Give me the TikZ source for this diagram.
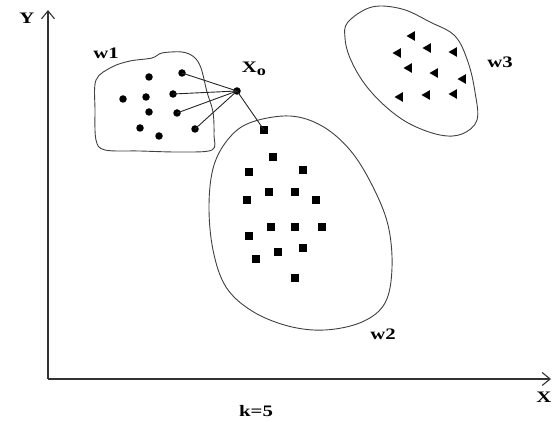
\documentclass[tikz,border=0pt]{standalone}
\usepackage{fontspec}
\setmainfont{Liberation Serif}
\usetikzlibrary{arrows.meta,shapes.geometric}
\newcommand{\widetext}[1]{\scalebox{1.3}[1]{#1}}
\begin{document}
\begin{tikzpicture}[x=1pt,y=-1pt,
  axis/.style={draw=black!80,line width=1.1pt,-{Straight Barb[length=8pt,width=13pt]}},
  blob/.style={draw=black!75,line width=0.9pt},
  link/.style={draw=black!85,line width=0.9pt},
  dot/.style={circle,fill=black,inner sep=0pt,minimum size=7.5pt},
  sq/.style={rectangle,fill=black,inner sep=0pt,minimum size=8pt},
  tri/.style={regular polygon,regular polygon sides=3,shape border rotate=90,fill=black,inner sep=0pt,minimum size=11pt},
  lab/.style={font=\bfseries\fontsize{16}{18}\selectfont,inner sep=0pt}]
\useasboundingbox (0,0) rectangle (552,422);

% axes
\coordinate (o) at (48,379);
\coordinate (ytip) at (48,10);
\coordinate (xtip) at (551,379);
\draw[axis] (o) -- (ytip);
\draw[axis] (o) -- (xtip);
\node[lab] (ylab) at (27,18) {\widetext{Y}};
\node[lab] (xlab) at (544,397) {\widetext{X}};
\node[lab] (klab) at (256,411) {\widetext{k=5}};

% class w1
\draw[blob] plot[smooth cycle,tension=0.55] coordinates {
  (96,80) (112,67) (130,61) (152,58) (162,53) (182,52) (194,57) (201,68)
  (207,92) (213,112) (214,135) (212,150) (180,152) (140,151) (105,150) (96,140) (95,110)};
\node[lab] (w1) at (106,53) {\widetext{w1}};
\node[dot] (a1) at (182,73) {};
\node[dot] (a2) at (149,77) {};
\node[dot] (a3) at (123,99) {};
\node[dot] (a4) at (146,97) {};
\node[dot] (a5) at (173,94) {};
\node[dot] (a6) at (149,112) {};
\node[dot] (a7) at (177,113) {};
\node[dot] (a8) at (140,128) {};
\node[dot] (a9) at (159,136) {};
\node[dot] (a10) at (195,129) {};

% class w2
\draw[blob] plot[smooth cycle,tension=0.6] coordinates {
  (252,122) (290,116) (322,126) (350,150) (372,185) (388,225) (392,268)
  (385,303) (362,322) (325,330) (288,326) (252,311) (226,287) (213,250)
  (209,205) (214,165) (230,137)};
\node[lab] (w2) at (383,334) {\widetext{w2}};
\node[sq] (b1) at (264,130) {};
\node[sq] (b2) at (273,157) {};
\node[sq] (b3) at (249,172) {};
\node[sq] (b4) at (303,170) {};
\node[sq] (b5) at (269,192) {};
\node[sq] (b6) at (295,192) {};
\node[sq] (b7) at (247,200) {};
\node[sq] (b8) at (316,200) {};
\node[sq] (b9) at (271,227) {};
\node[sq] (b10) at (295,227) {};
\node[sq] (b11) at (322,227) {};
\node[sq] (b12) at (249,236) {};
\node[sq] (b13) at (303,248) {};
\node[sq] (b14) at (278,252) {};
\node[sq] (b15) at (256,259) {};
\node[sq] (b16) at (295,278) {};

% class w3
\draw[blob] plot[smooth cycle,tension=0.6] coordinates {
  (348,22) (372,7) (402,9) (430,22) (455,36) (468,62) (475,92) (477,120)
  (462,134) (440,135) (410,124) (385,106) (364,83) (350,58) (345,38)};
\node[lab] (w3) at (500,62) {\widetext{w3}};
\node[tri] (c1) at (412,36) {};
\node[tri] (c2) at (428,48) {};
\node[tri] (c3) at (398,53) {};
\node[tri] (c4) at (454,52) {};
\node[tri] (c5) at (409,68) {};
\node[tri] (c6) at (435,73) {};
\node[tri] (c7) at (463,79) {};
\node[tri] (c8) at (400,97) {};
\node[tri] (c9) at (427,95) {};
\node[tri] (c10) at (454,94) {};

% query point and its five nearest neighbours
\node[dot] (x0) at (237,91) {};
\node[lab] (x0lab) at (254,69) {\widetext{X\raisebox{-3.5pt}{\fontsize{14}{16}\selectfont o}}};
\foreach \n in {a1,a5,a7,a10,b1}
  \draw[link] (x0.center) -- (\n.center);
\end{tikzpicture}
\end{document}
